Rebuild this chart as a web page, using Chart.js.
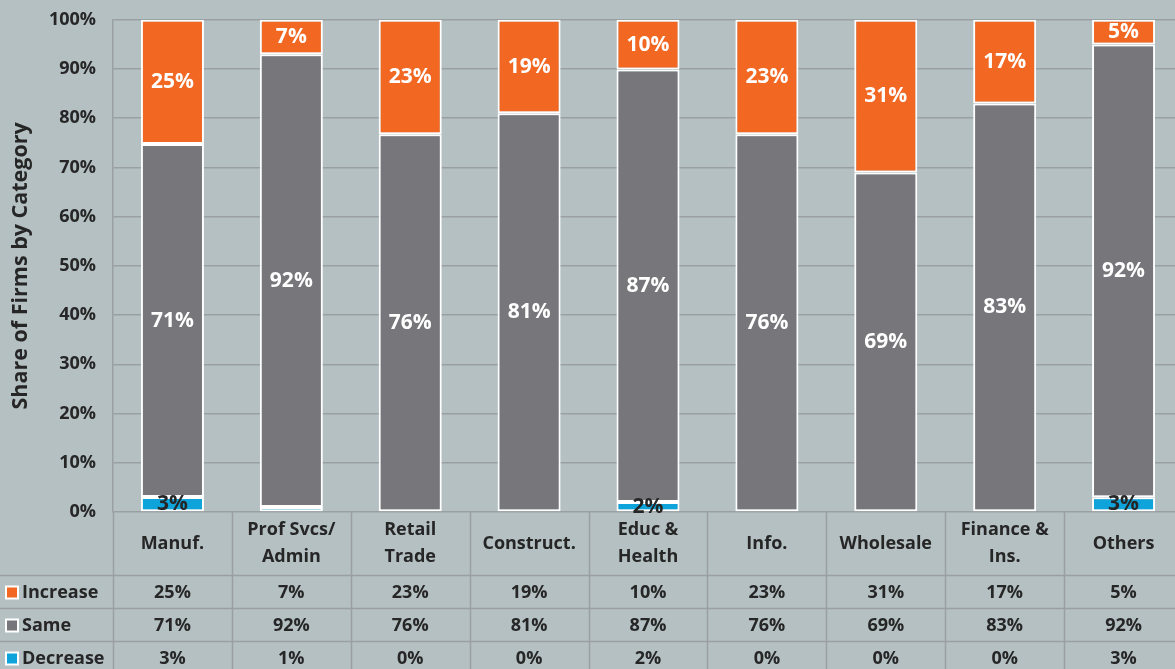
<!DOCTYPE html>
<html>
<head>
<meta charset="utf-8">
<script src="https://cdn.jsdelivr.net/npm/chart.js@4.4.1/dist/chart.umd.min.js"></script>
<style>
  html, body { margin: 0; padding: 0; overflow: hidden; background: #b5c0c3; }
  #wrap { width: 1190px; height: 677px; margin-top: -8px; }
</style>
</head>
<body>
<div id="wrap"><canvas id="myCanvas"></canvas></div>
<script>
const categories = [
  ["Manuf."], ["Prof Svcs/", "Admin"], ["Retail", "Trade"], ["Construct."],
  ["Educ &", "Health"], ["Info."], ["Wholesale"], ["Finance &", "Ins."], ["Others"]
];
const increase = [25, 7, 23, 19, 10, 23, 31, 17, 5];
const same     = [71, 92, 76, 81, 87, 76, 69, 83, 92];
const decrease = [3, 1, 0, 0, 2, 0, 0, 0, 3];
const yTicks = [0, 10, 20, 30, 40, 50, 60, 70, 80, 90, 100];

const FONT = "'Open Sans', 'DejaVu Sans', sans-serif";
const DARK = "#262626";
const LINE = "#9a9fa2";

// 100% stacked: each bar is scaled to its own total
const totals = categories.map((c, i) => increase[i] + same[i] + decrease[i]);
const share = arr => arr.map((v, i) => v / totals[i] * 100);

const series = [
  { label: "Decrease", raw: decrease, color: "#0ea3da", text: DARK },
  { label: "Same", raw: same, color: "#77777b", text: "#ffffff" },
  { label: "Increase", raw: increase, color: "#f26722", text: "#ffffff" }
];

// data labels drawn inside each segment
const labelPlugin = {
  id: "segLabels",
  afterDatasetsDraw(chart) {
    const ctx = chart.ctx;
    ctx.save();
    ctx.font = "bold 21px " + FONT;
    ctx.textAlign = "center";
    ctx.textBaseline = "middle";
    chart.data.datasets.forEach((ds, di) => {
      const meta = chart.getDatasetMeta(di);
      meta.data.forEach((bar, i) => {
        const v = ds.raw[i];
        if (v < 2) return;
        ctx.fillStyle = ds.textColor;
        ctx.fillText(v + "%", bar.x, (bar.y + bar.base) / 2);
      });
    });
    ctx.restore();
  }
};

// data table under the x axis, aligned to the category scale
const tablePlugin = {
  id: "dataTable",
  afterDraw(chart) {
    const ctx = chart.ctx;
    const x = chart.scales.x;
    const area = chart.chartArea;
    const step = x.getPixelForValue(1) - x.getPixelForValue(0);
    const rowTop = area.bottom + 63, rowH = 33;
    const rows = [series[2], series[1], series[0]];
    ctx.save();
    ctx.strokeStyle = LINE;
    ctx.lineWidth = 1.5;
    // vertical cell borders
    for (let i = 0; i <= categories.length; i++) {
      const px = Math.round(x.getPixelForValue(i) - step / 2) + 0.5;
      ctx.beginPath();
      ctx.moveTo(px, area.bottom);
      ctx.lineTo(px, chart.height);
      ctx.stroke();
    }
    // horizontal row borders
    for (let r = 0; r < rows.length; r++) {
      const py = rowTop + r * rowH + 0.5;
      ctx.beginPath();
      ctx.moveTo(0, py);
      ctx.lineTo(area.right, py);
      ctx.stroke();
    }
    ctx.font = "bold 18px " + FONT;
    ctx.textBaseline = "middle";
    ctx.fillStyle = DARK;
    ctx.textAlign = "center";
    // category header row, centred vertically in its cell
    const headMid = (area.bottom + rowTop) / 2;
    categories.forEach((lines, i) => {
      lines.forEach((t, k) => {
        ctx.fillText(t, x.getPixelForValue(i), headMid + (k - (lines.length - 1) / 2) * 27);
      });
    });
    rows.forEach((s, r) => {
      const cy = rowTop + r * rowH + rowH / 2 + 1;
      // legend key
      ctx.fillStyle = "#ffffff";
      ctx.fillRect(5, cy - 7, 14, 14);
      ctx.fillStyle = s.color;
      ctx.fillRect(7, cy - 5, 10, 10);
      ctx.fillStyle = DARK;
      ctx.textAlign = "left";
      ctx.fillText(s.label, 22, cy);
      ctx.textAlign = "center";
      s.raw.forEach((v, i) => {
        ctx.fillText(v + "%", x.getPixelForValue(i), cy);
      });
    });
    ctx.restore();
  }
};

new Chart(document.getElementById("myCanvas"), {
  type: "bar",
  data: {
    labels: categories,
    datasets: series.map(s => ({
      label: s.label,
      data: share(s.raw),
      raw: s.raw,
      textColor: s.text,
      backgroundColor: s.color,
      borderColor: "#ffffff",
      borderWidth: 2,
      borderSkipped: false,
      categoryPercentage: 1,
      barPercentage: 0.53
    }))
  },
  options: {
    responsive: true,
    maintainAspectRatio: false,
    animation: false,
    layout: { padding: { top: 12, right: 7, bottom: 0, left: 0 } },
    plugins: { legend: { display: false }, tooltip: { enabled: false } },
    scales: {
      x: {
        stacked: true,
        grid: { display: false },
        border: { display: false },
        ticks: { display: false },
        afterFit(scale) { scale.height = 157; }
      },
      y: {
        stacked: true,
        min: 0,
        max: 100,
        afterBuildTicks(scale) { scale.ticks = yTicks.map(v => ({ value: v })); },
        grid: { color: LINE, lineWidth: 1.5, drawTicks: false },
        border: { display: true, color: LINE, width: 1.5 },
        ticks: {
          color: DARK,
          font: { family: FONT, size: 18, weight: "bold" },
          padding: 17,
          callback: v => v + "%"
        },
        title: {
          display: true,
          text: "Share of Firms by Category",
          color: DARK,
          font: { family: FONT, size: 21.5, weight: "bold" },
          padding: { top: 8, bottom: 4 }
        },
        afterFit(scale) { scale.width = 113; }
      }
    }
  },
  plugins: [labelPlugin, tablePlugin]
});
</script>
</body>
</html>
